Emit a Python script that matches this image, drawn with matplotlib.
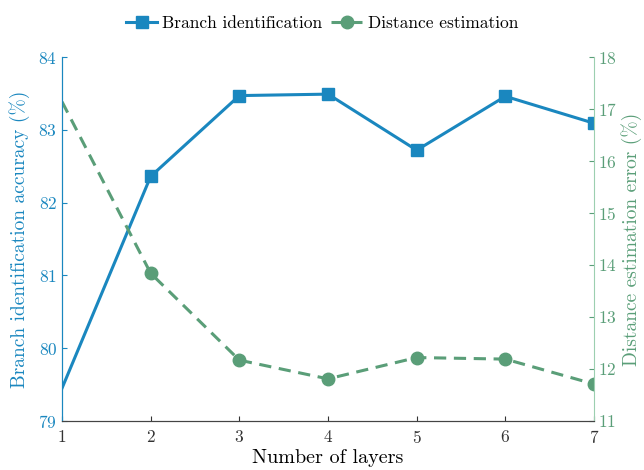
import matplotlib
matplotlib.use("Agg")
import matplotlib.pyplot as plt

layers = [1, 2, 3, 4, 5, 6, 7]
branch_acc = [79.45, 82.36, 83.47, 83.49, 82.72, 83.46, 83.09]
dist_err = [17.14, 13.84, 12.17, 11.81, 12.22, 12.19, 11.71]

blue = "#1a87bf"
green = "#5a9e78"

plt.rcParams['font.family'] = ['cmr10', 'DejaVu Serif']
plt.rcParams['axes.formatter.use_mathtext'] = True
plt.rcParams['mathtext.fontset'] = 'cm'

fig = plt.figure(figsize=(6.44, 4.70), dpi=100)
ax = fig.add_axes([0.0963, 0.1043, 0.8261, 0.7744])
ax2 = ax.twinx()

l1, = ax.plot(layers, branch_acc, color=blue, lw=2.2, marker='s', ms=8,
              markevery=range(1, 7), label='Branch identification')
l2, = ax2.plot(layers, dist_err, color=green, lw=2.2, ls=(0, (4, 2.5)), marker='o', ms=9,
               markevery=range(1, 7), label='Distance estimation')

ax.set_xlim(1, 7)
ax.set_ylim(79, 84)
ax2.set_ylim(11, 18)
ax.set_xticks(layers)
ax.set_yticks(range(79, 85))
ax2.set_yticks(range(11, 19))

ax.set_xlabel('Number of layers', fontsize=14.5, labelpad=2)
ax.set_ylabel('Branch identification accuracy (%)', fontsize=14, color=blue, labelpad=6)
ax2.set_ylabel('Distance estimation error (%)', fontsize=14, color=green, labelpad=3)

ax.tick_params(axis='x', direction='in', labelsize=12.5, colors='#333333', pad=6)
ax.tick_params(axis='y', direction='in', labelsize=12.5, colors=blue)
ax2.tick_params(axis='y', direction='in', labelsize=12.5, colors=green, pad=3)

for a in (ax, ax2):
    a.spines['top'].set_visible(False)
ax.spines['right'].set_visible(False)
ax2.spines['left'].set_color(blue)
ax2.spines['right'].set_color('#9ccfb0')
ax2.spines['bottom'].set_color('#444444')
ax.spines['left'].set_color(blue)
ax.spines['bottom'].set_color('#444444')

fig.legend(handles=[l1, l2], loc='upper center', bbox_to_anchor=(0.5, 1.0), ncol=2,
           frameon=False, fontsize=12.5, handlelength=1.8, handletextpad=0.3, columnspacing=0.5)

fig.savefig('out.png', dpi=100)
